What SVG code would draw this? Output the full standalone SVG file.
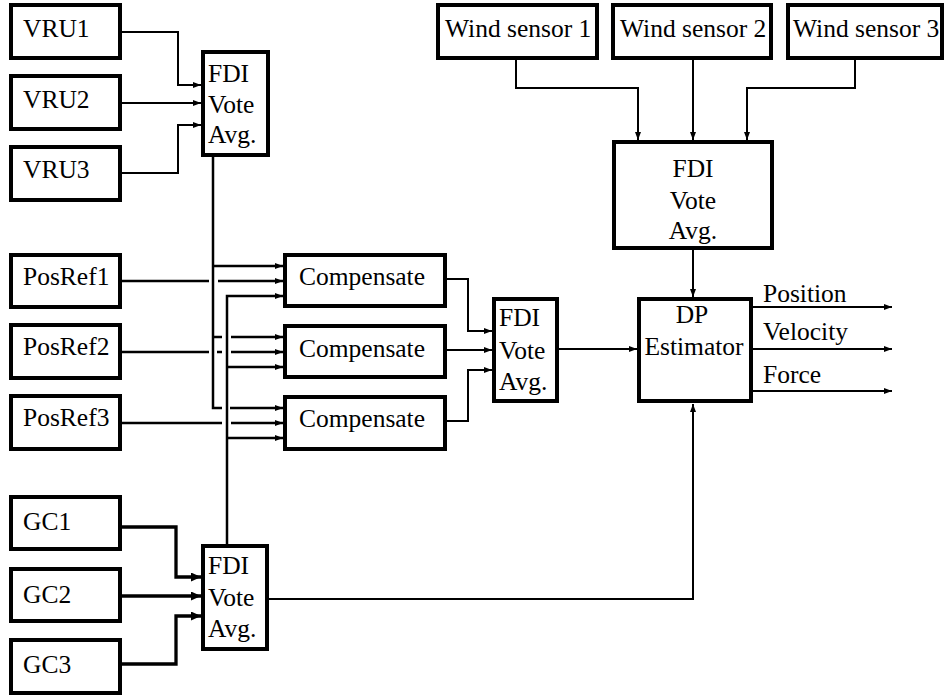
<svg xmlns="http://www.w3.org/2000/svg" width="946" height="698" viewBox="0 0 946 698">
<style>
.box{fill:#fff;stroke:#000;stroke-width:4}
text{font-family:'Liberation Serif','Tinos','Times New Roman','Times','Noto Serif','DejaVu Serif','FreeSerif',serif;font-size:25.5px;fill:#000}
.mid{text-anchor:middle}
.c{fill:none;stroke:#000;stroke-width:2}
.c25{fill:none;stroke:#000;stroke-width:2.5}
.c3{fill:none;stroke:#000;stroke-width:3.3}
.a{marker-end:url(#arr)}
.A{marker-end:url(#arrB)}
</style>
<defs>
<marker id="arr" markerUnits="userSpaceOnUse" viewBox="0 0 8 6" refX="8" refY="3" markerWidth="8" markerHeight="6" orient="auto"><path d="M0,0 L8,3 L0,6 z" fill="#000"/></marker>
<marker id="arrB" markerUnits="userSpaceOnUse" viewBox="0 0 10 9" refX="10" refY="4.5" markerWidth="10" markerHeight="9" orient="auto"><path d="M0,0 L10,4.5 L0,9 z" fill="#000"/></marker>
</defs>
<rect width="946" height="698" fill="#fff"/>
<g id="connectors">
<path class="c a" d="M122,32 H178 V85 H201"/>
<path class="c a" d="M122,103 H201"/>
<path class="c a" d="M122,173 H178 V125 H201"/>
<path class="c25" d="M213,157 V408 H222"/>
<path class="c25 a" d="M230,408 H283"/>
<path class="c25 a" d="M213,266 H283"/>
<path class="c25" d="M213,337 H222"/>
<path class="c25 a" d="M231,337 H283"/>
<path class="c25 a" d="M227,544 V296 H283"/>
<path class="c25 a" d="M227,367 H283"/>
<path class="c25 a" d="M227,438 H283"/>
<path class="c25" d="M122,281 H209"/>
<path class="c25 a" d="M218,281 H283"/>
<path class="c25" d="M122,352 H209"/>
<path class="c25" d="M217,352 H222"/>
<path class="c25 a" d="M231,352 H283"/>
<path class="c25" d="M122,423 H222"/>
<path class="c25 a" d="M231,423 H283"/>
<path class="c a" d="M447,279 H468 V331 H492"/>
<path class="c a" d="M447,350 H492"/>
<path class="c a" d="M447,421 H468 V370 H492"/>
<path class="c a" d="M559,349 H637"/>
<path class="c3 A" d="M122,527 H176 V577 H201"/>
<path class="c3 A" d="M122,596 H201"/>
<path class="c3 A" d="M122,664 H176 V616 H201"/>
<path class="c a" d="M269,599 H693 V404"/>
<path class="c a" d="M516,60 V88 H638 V140"/>
<path class="c a" d="M693,60 V140"/>
<path class="c a" d="M855,60 V88 H747 V140"/>
<path class="c a" d="M693,250 V297"/>
<path class="c a" d="M753,307 H892"/>
<path class="c a" d="M753,349 H892"/>
<path class="c a" d="M753,391 H892"/>
</g>
<g id="vru1"><rect class="box" x="11" y="5" width="109" height="53"/><text x="23" y="37">VRU1</text></g>
<g id="vru2"><rect class="box" x="11" y="76" width="109" height="53"/><text x="23" y="108">VRU2</text></g>
<g id="vru3"><rect class="box" x="11" y="147" width="109" height="53"/><text x="23" y="178">VRU3</text></g>
<g id="posref1"><rect class="box" x="11" y="255" width="109" height="52"/><text x="23" y="285">PosRef1</text></g>
<g id="posref2"><rect class="box" x="11" y="325" width="109" height="53"/><text x="23" y="355">PosRef2</text></g>
<g id="posref3"><rect class="box" x="11" y="396" width="109" height="53"/><text x="23" y="426">PosRef3</text></g>
<g id="gc1"><rect class="box" x="11" y="497" width="109" height="52"/><text x="23" y="530">GC1</text></g>
<g id="gc2"><rect class="box" x="11" y="569" width="109" height="52"/><text x="23" y="603">GC2</text></g>
<g id="gc3"><rect class="box" x="11" y="640" width="109" height="53"/><text x="23" y="673">GC3</text></g>
<g id="fdi-vru"><rect class="box" x="203" y="52" width="65" height="103"/><text x="208" y="82">FDI</text><text x="208" y="113">Vote</text><text x="208" y="143">Avg.</text></g>
<g id="fdi-gc"><rect class="box" x="203" y="546" width="64" height="103"/><text x="208" y="574">FDI</text><text x="208" y="606">Vote</text><text x="208" y="637">Avg.</text></g>
<g id="comp1"><rect class="box" x="285" y="255" width="160" height="51"/><text class="mid" x="362" y="285">Compensate</text></g>
<g id="comp2"><rect class="box" x="285" y="326" width="160" height="51"/><text class="mid" x="362" y="357">Compensate</text></g>
<g id="comp3"><rect class="box" x="285" y="397" width="160" height="52"/><text class="mid" x="362" y="427">Compensate</text></g>
<g id="fdi-pos"><rect class="box" x="494" y="299" width="63" height="102"/><text x="499" y="326">FDI</text><text x="499" y="359">Vote</text><text x="499" y="390">Avg.</text></g>
<g id="dp"><rect class="box" x="639" y="299" width="112" height="102"/><text class="mid" x="692" y="323">DP</text><text class="mid" x="694" y="355">Estimator</text></g>
<g id="fdi-wind"><rect class="box" x="614" y="142" width="158" height="106"/><text class="mid" x="693" y="177">FDI</text><text class="mid" x="693" y="209">Vote</text><text class="mid" x="693" y="239">Avg.</text></g>
<g id="ws1"><rect class="box" x="438" y="5" width="159" height="53"/><text x="445" y="37">Wind sensor 1</text></g>
<g id="ws2"><rect class="box" x="613" y="5" width="158" height="53"/><text x="620" y="37">Wind sensor 2</text></g>
<g id="ws3"><rect class="box" x="788" y="5" width="154" height="53"/><text x="793" y="37">Wind sensor 3</text></g>
<g id="outputs"><text x="763" y="302">Position</text><text x="763" y="340">Velocity</text><text x="763" y="383">Force</text></g>
</svg>
